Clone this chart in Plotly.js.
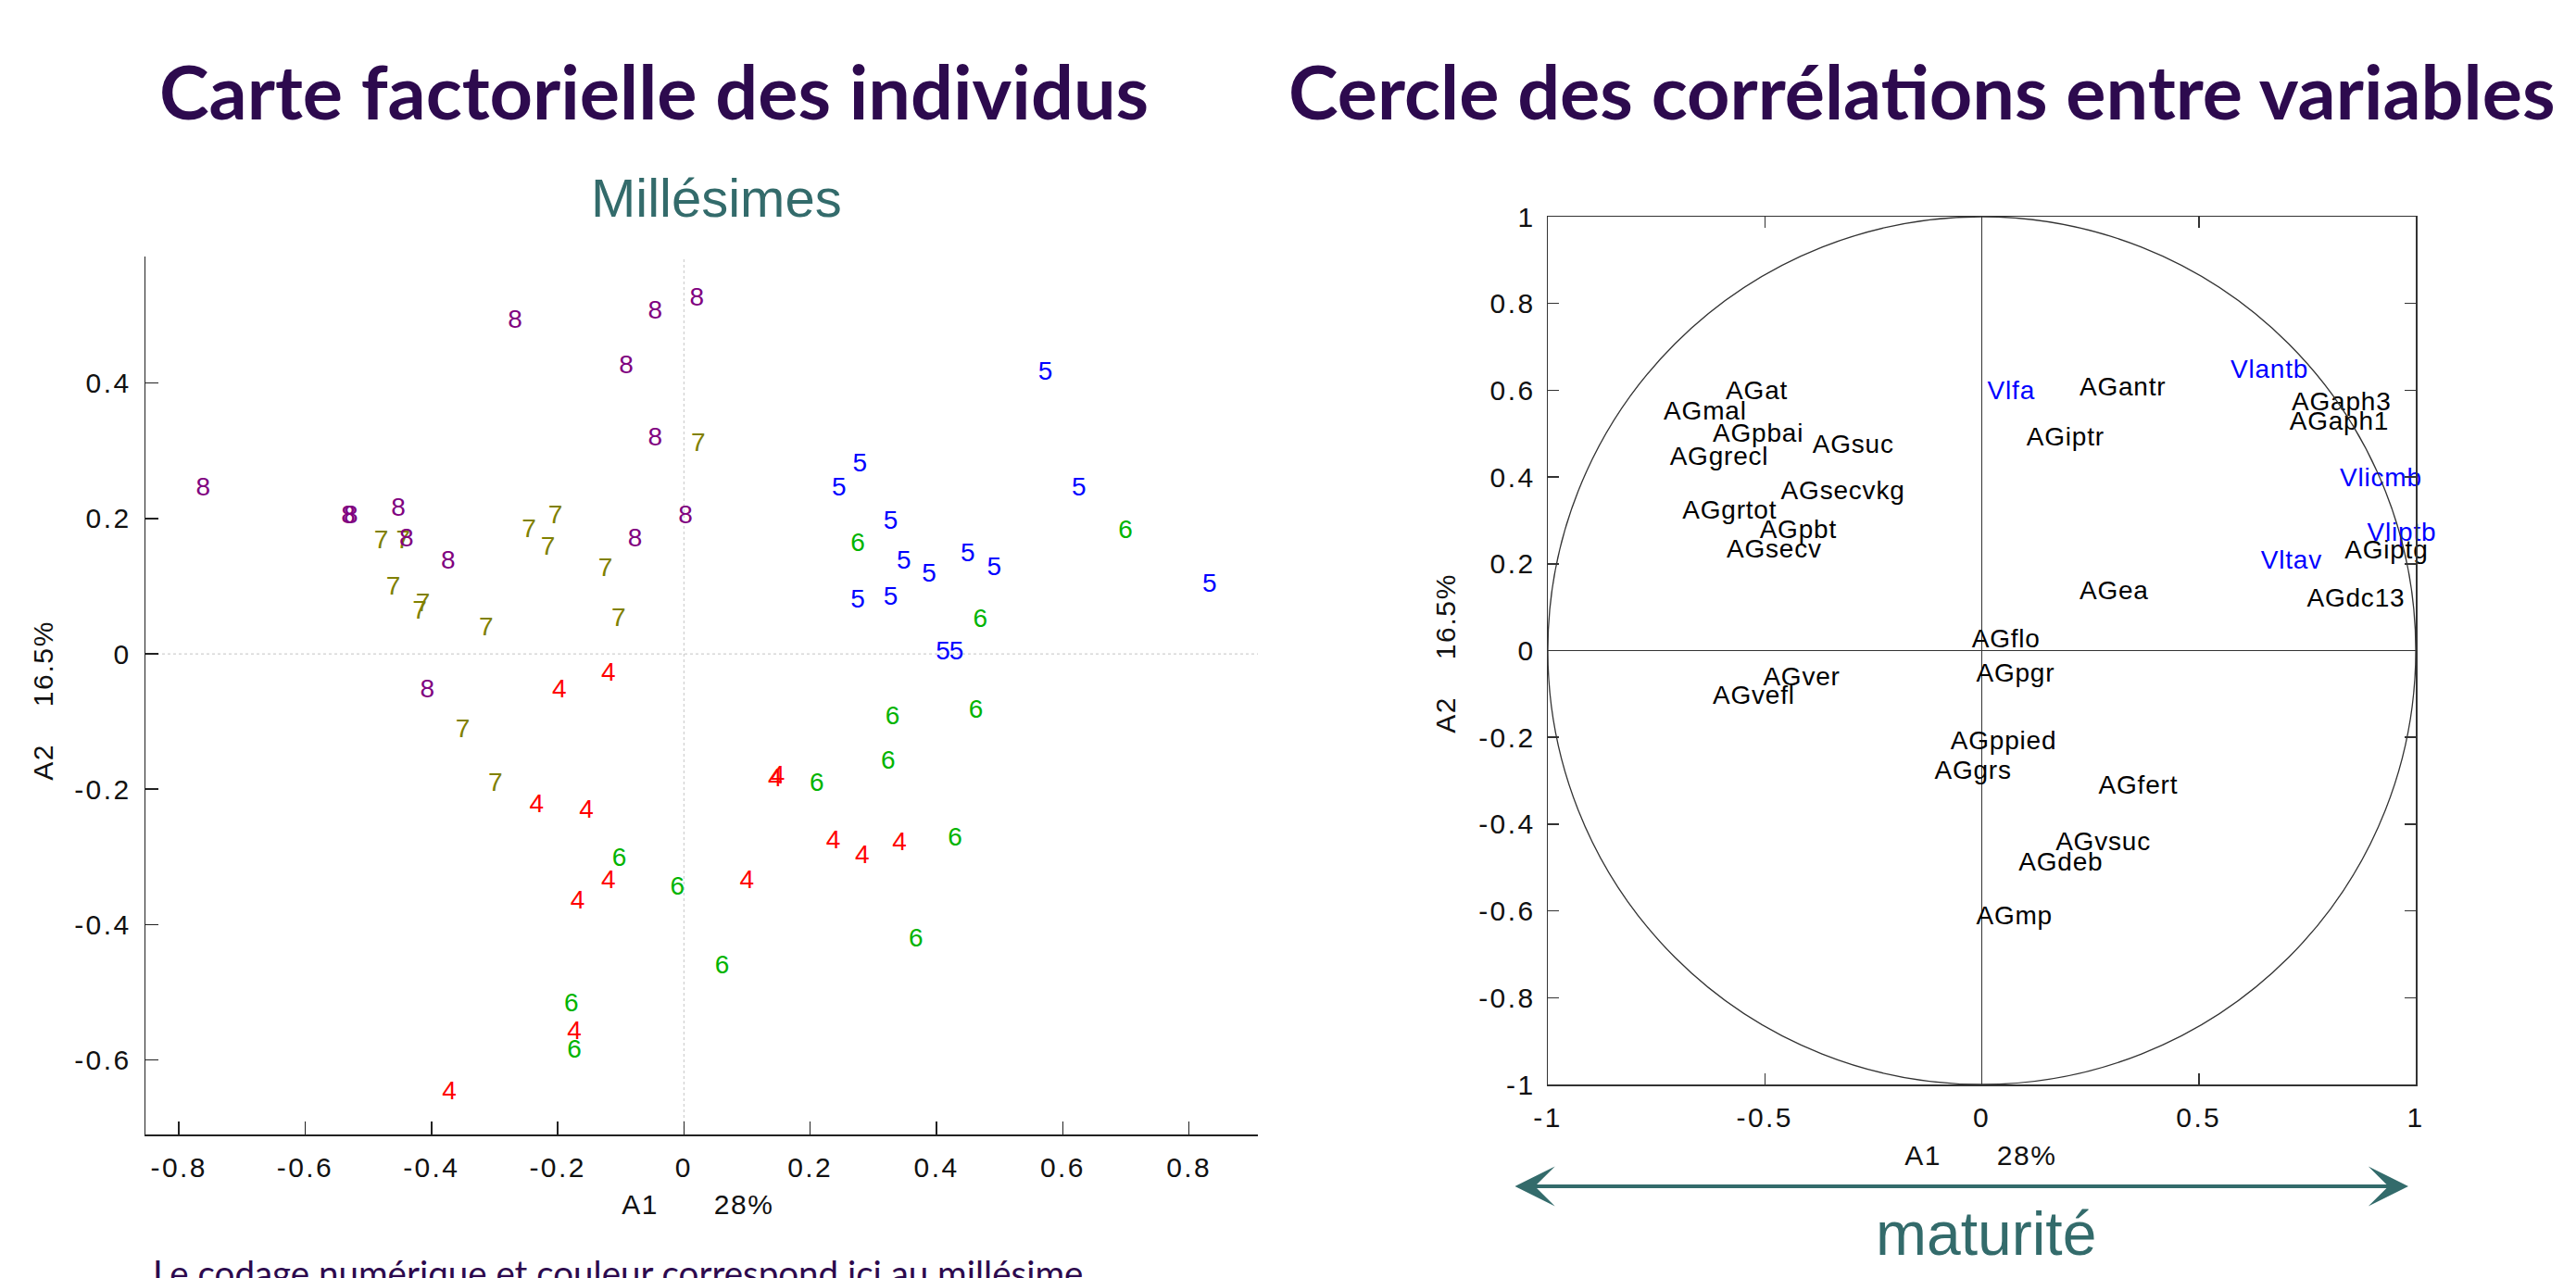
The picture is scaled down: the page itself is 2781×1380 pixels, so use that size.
<!DOCTYPE html>
<html>
<head>
<meta charset="utf-8">
<script src="https://cdn.plot.ly/plotly-3.0.1.min.js"></script>
<style>
html,body{margin:0;padding:0;background:#fff;}
#chart{width:2781px;height:1380px;}
#chart g.xtick text, #chart g.ytick text, #chart g.x2tick text, #chart g.y2tick text { letter-spacing: 2.4px; }
#chart g.annotation[data-index="3"] text, #chart g.annotation[data-index="4"] text,
#chart g.annotation[data-index="5"] text, #chart g.annotation[data-index="6"] text { letter-spacing: 1.6px; }
#chart g.textpoint text { letter-spacing: 0.8px; }
</style>
</head>
<body>
<div id="chart"></div>
<script>
// ---------- Left chart: individuals (vintage codes) ----------
const x4 = [-0.197, -0.119, -0.233, -0.154, -0.119, -0.168, -0.173, -0.371, 0.145, 0.149, 0.237, 0.283, 0.342, 0.100];
const y4 = [-0.055, -0.030, -0.224, -0.232, -0.337, -0.366, -0.559, -0.648, -0.186, -0.182, -0.278, -0.299, -0.281, -0.336];
const x5 = [0.573, 0.279, 0.246, 0.626, 0.328, 0.349, 0.389, 0.450, 0.492, 0.833, 0.276, 0.328, 0.411, 0.432];
const y5 = [0.414, 0.279, 0.244, 0.244, 0.195, 0.136, 0.117, 0.146, 0.126, 0.101, 0.078, 0.082, 0.002, 0.002];
const x6 = [0.700, 0.276, 0.470, 0.331, 0.463, 0.324, 0.211, 0.430, -0.102, -0.010, -0.178, -0.173, 0.368, 0.061];
const y6 = [0.180, 0.162, 0.050, -0.094, -0.085, -0.160, -0.193, -0.274, -0.304, -0.346, -0.519, -0.587, -0.423, -0.463];
const x7 = [-0.444, -0.479, -0.460, -0.413, -0.418, -0.313, -0.203, -0.245, -0.215, -0.124, -0.103, -0.350, -0.298, 0.023];
const y7 = [0.165, 0.165, 0.097, 0.072, 0.062, 0.037, 0.203, 0.182, 0.156, 0.124, 0.051, -0.114, -0.193, 0.309];
const x8 = [-0.267, -0.045, -0.091, -0.045, -0.761, -0.531, -0.527, -0.452, -0.439, -0.373, -0.077, 0.003, -0.406, 0.021];
const y8 = [0.491, 0.505, 0.424, 0.318, 0.244, 0.203, 0.203, 0.213, 0.168, 0.136, 0.169, 0.203, -0.055, 0.524];
const vintageCodes = ['4', '5', '6', '7', '8'];

const leftXTickVals = [-0.8, -0.6, -0.4, -0.2, 0, 0.2, 0.4, 0.6, 0.8];
const leftXTickText = ['-0.8', '-0.6', '-0.4', '-0.2', '0', '0.2', '0.4', '0.6', '0.8'];
const leftYTickVals = [-0.6, -0.4, -0.2, 0, 0.2, 0.4];
const leftYTickText = ['-0.6', '-0.4', '-0.2', '0', '0.2', '0.4'];

// ---------- Right chart: correlation circle ----------
const agNames = ['AGat', 'AGmal', 'AGpbai', 'AGsuc', 'AGgrecl', 'AGsecvkg', 'AGgrtot', 'AGpbt', 'AGsecv',
  'AGflo', 'AGver', 'AGvefl', 'AGpgr', 'AGppied', 'AGgrs', 'AGmp', 'AGantr', 'AGiptr', 'AGaph3', 'AGaph1',
  'AGiptg', 'AGea', 'AGdc13', 'AGfert', 'AGvsuc', 'AGdeb'];
const agX = [-0.590, -0.733, -0.620, -0.390, -0.719, -0.463, -0.690, -0.512, -0.588,
  -0.023, -0.504, -0.620, -0.013, -0.072, -0.109, -0.013, 0.225, 0.103, 0.714, 0.709,
  0.836, 0.225, 0.749, 0.269, 0.170, 0.085];
const agY = [0.595, 0.547, 0.496, 0.471, 0.442, 0.363, 0.319, 0.275, 0.229,
  0.023, -0.065, -0.108, -0.057, -0.212, -0.280, -0.616, 0.602, 0.488, 0.569, 0.525,
  0.227, 0.133, 0.117, -0.315, -0.444, -0.492];
const vlNames = ['Vlfa', 'Vlantb', 'Vlicmb', 'Vliptb', 'Vltav'];
const vlX = [0.013, 0.573, 0.825, 0.888, 0.643];
const vlY = [0.595, 0.643, 0.393, 0.268, 0.203];

const rightXTickVals = [-1, -0.5, 0, 0.5, 1];
const rightXTickText = ['-1', '-0.5', '0', '0.5', '1'];
const rightYTickVals = [-1, -0.8, -0.6, -0.4, -0.2, 0, 0.2, 0.4, 0.6, 0.8, 1];
const rightYTickText = ['-1', '-0.8', '-0.6', '-0.4', '-0.2', '0', '0.2', '0.4', '0.6', '0.8', '1'];

// ---------- styling / layout helpers ----------
const W = 2781, H = 1380;
const px = v => v / W;
const py = v => 1 - v / H;
const AX_FONT = 'Liberation Sans, Arial, sans-serif';
const vintageColors = ['#ff0000', '#0000ff', '#00b400', '#808000', '#800080'];
const vintX = [x4, x5, x6, x7, x8];
const vintY = [y4, y5, y6, y7, y8];

const traces = [];
vintageCodes.forEach((code, i) => {
  traces.push({
    type: 'scatter', mode: 'text', xaxis: 'x', yaxis: 'y',
    x: vintX[i], y: vintY[i],
    text: vintX[i].map(() => code),
    textposition: 'middle center',
    textfont: { family: AX_FONT, size: 28, color: vintageColors[i] },
    hoverinfo: 'skip', cliponaxis: false
  });
});
traces.push({
  type: 'scatter', mode: 'text', xaxis: 'x2', yaxis: 'y2',
  x: agX, y: agY, text: agNames, textposition: 'middle right',
  textfont: { family: AX_FONT, size: 28, color: '#000000' },
  hoverinfo: 'skip', cliponaxis: false
});
traces.push({
  type: 'scatter', mode: 'text', xaxis: 'x2', yaxis: 'y2',
  x: vlX, y: vlY, text: vlNames, textposition: 'middle right',
  textfont: { family: AX_FONT, size: 28, color: '#0000ff' },
  hoverinfo: 'skip', cliponaxis: false
});

const axisCommon = {
  showgrid: false, zeroline: false, showline: true,
  linecolor: '#222', linewidth: 1.5,
  ticks: 'inside', tickcolor: '#222', tickwidth: 1.5,
  tickfont: { family: AX_FONT, size: 30, color: '#111' },
  fixedrange: true
};

const titleColor = '#2d0a4e';
const teal = '#336b6b';
const NB = n => '\u00a0'.repeat(n);

const layout = {
  width: W, height: H,
  margin: { l: 0, r: 0, t: 0, b: 0 },
  paper_bgcolor: '#ffffff', plot_bgcolor: '#ffffff',
  showlegend: false,
  xaxis: Object.assign({}, axisCommon, {
    domain: [px(157), px(1358)], range: [-0.853, 0.909], anchor: 'y',
    tickvals: leftXTickVals, ticktext: leftXTickText, ticklen: 14, ticklabelstandoff: 8
  }),
  yaxis: Object.assign({}, axisCommon, {
    domain: [py(1225), py(277)], range: [-0.71, 0.587], anchor: 'x',
    tickvals: leftYTickVals, ticktext: leftYTickText, ticklen: 14, ticklabelstandoff: 8
  }),
  xaxis2: Object.assign({}, axisCommon, {
    domain: [px(1671), px(2608)], range: [-1, 1], anchor: 'y2', mirror: 'allticks',
    linecolor: '#333', tickcolor: '#333',
    tickvals: rightXTickVals, ticktext: rightXTickText, ticklen: 12, ticklabelstandoff: 8,
    zeroline: true, zerolinecolor: '#333', zerolinewidth: 1.5
  }),
  yaxis2: Object.assign({}, axisCommon, {
    domain: [py(1171), py(234)], range: [-1, 1], anchor: 'x2', mirror: 'allticks',
    linecolor: '#333', tickcolor: '#333',
    tickvals: rightYTickVals, ticktext: rightYTickText, ticklen: 12, ticklabelstandoff: 6,
    zeroline: true, zerolinecolor: '#333', zerolinewidth: 1.5
  }),
  shapes: [
    { type: 'line', xref: 'x', yref: 'y', x0: 0, x1: 0, y0: -0.71, y1: 0.587,
      line: { color: '#cfcfcf', width: 1.2, dash: 'dot' }, layer: 'below' },
    { type: 'line', xref: 'x', yref: 'y', x0: -0.853, x1: 0.909, y0: 0, y1: 0,
      line: { color: '#cfcfcf', width: 1.2, dash: 'dot' }, layer: 'below' },
    { type: 'circle', xref: 'x2', yref: 'y2', x0: -1, y0: -1, x1: 1, y1: 1,
      line: { color: '#333', width: 1.3 } }
  ],
  annotations: [
    { text: 'Carte factorielle des individus', xref: 'paper', yref: 'paper',
      x: px(706), y: py(98), xanchor: 'center', yanchor: 'middle', showarrow: false,
      font: { family: 'Lato, Open Sans, sans-serif', size: 81, weight: 700, color: titleColor } },
    { text: 'Cercle des corrélations entre variables', xref: 'paper', yref: 'paper',
      x: px(2075), y: py(98), xanchor: 'center', yanchor: 'middle', showarrow: false,
      font: { family: 'Lato, Open Sans, sans-serif', size: 81, weight: 700, color: titleColor } },
    { text: 'Millésimes', xref: 'paper', yref: 'paper',
      x: px(773), y: py(213), xanchor: 'center', yanchor: 'middle', showarrow: false,
      font: { family: AX_FONT, size: 58, color: teal } },
    { text: 'A1' + NB(6) + '28%', xref: 'paper', yref: 'paper',
      x: px(754), y: py(1300), xanchor: 'center', yanchor: 'middle', showarrow: false,
      font: { family: AX_FONT, size: 30, color: '#111' } },
    { text: 'A2' + NB(4) + '16.5%', xref: 'paper', yref: 'paper',
      x: px(46), y: py(757), xanchor: 'center', yanchor: 'middle', showarrow: false, textangle: -90,
      font: { family: AX_FONT, size: 30, color: '#111' } },
    { text: 'A1' + NB(6) + '28%', xref: 'paper', yref: 'paper',
      x: px(2138), y: py(1247), xanchor: 'center', yanchor: 'middle', showarrow: false,
      font: { family: AX_FONT, size: 30, color: '#111' } },
    { text: 'A2' + NB(4) + '16.5%', xref: 'paper', yref: 'paper',
      x: px(1560), y: py(706), xanchor: 'center', yanchor: 'middle', showarrow: false, textangle: -90,
      font: { family: AX_FONT, size: 30, color: '#111' } },
    { text: '', xref: 'paper', yref: 'paper', x: px(2600), y: py(1281),
      axref: 'pixel', ayref: 'pixel', ax: -966, ay: 0, showarrow: true,
      arrowhead: 3, startarrowhead: 3, arrowside: 'end+start', arrowwidth: 4,
      arrowsize: 1.8, startarrowsize: 1.8, arrowcolor: teal },
    { text: 'maturité', xref: 'paper', yref: 'paper',
      x: px(2144), y: py(1332), xanchor: 'center', yanchor: 'middle', showarrow: false,
      font: { family: AX_FONT, size: 66, color: teal } },
    { text: 'Le codage numérique et couleur correspond ici au millésime', xref: 'paper', yref: 'paper',
      x: px(163), y: py(1374), xanchor: 'left', yanchor: 'middle', showarrow: false,
      font: { family: 'Lato, Open Sans, sans-serif', size: 38.5, color: titleColor } }
  ]
};

Plotly.newPlot('chart', traces, layout, { staticPlot: true, displayModeBar: false });
</script>
</body>
</html>
